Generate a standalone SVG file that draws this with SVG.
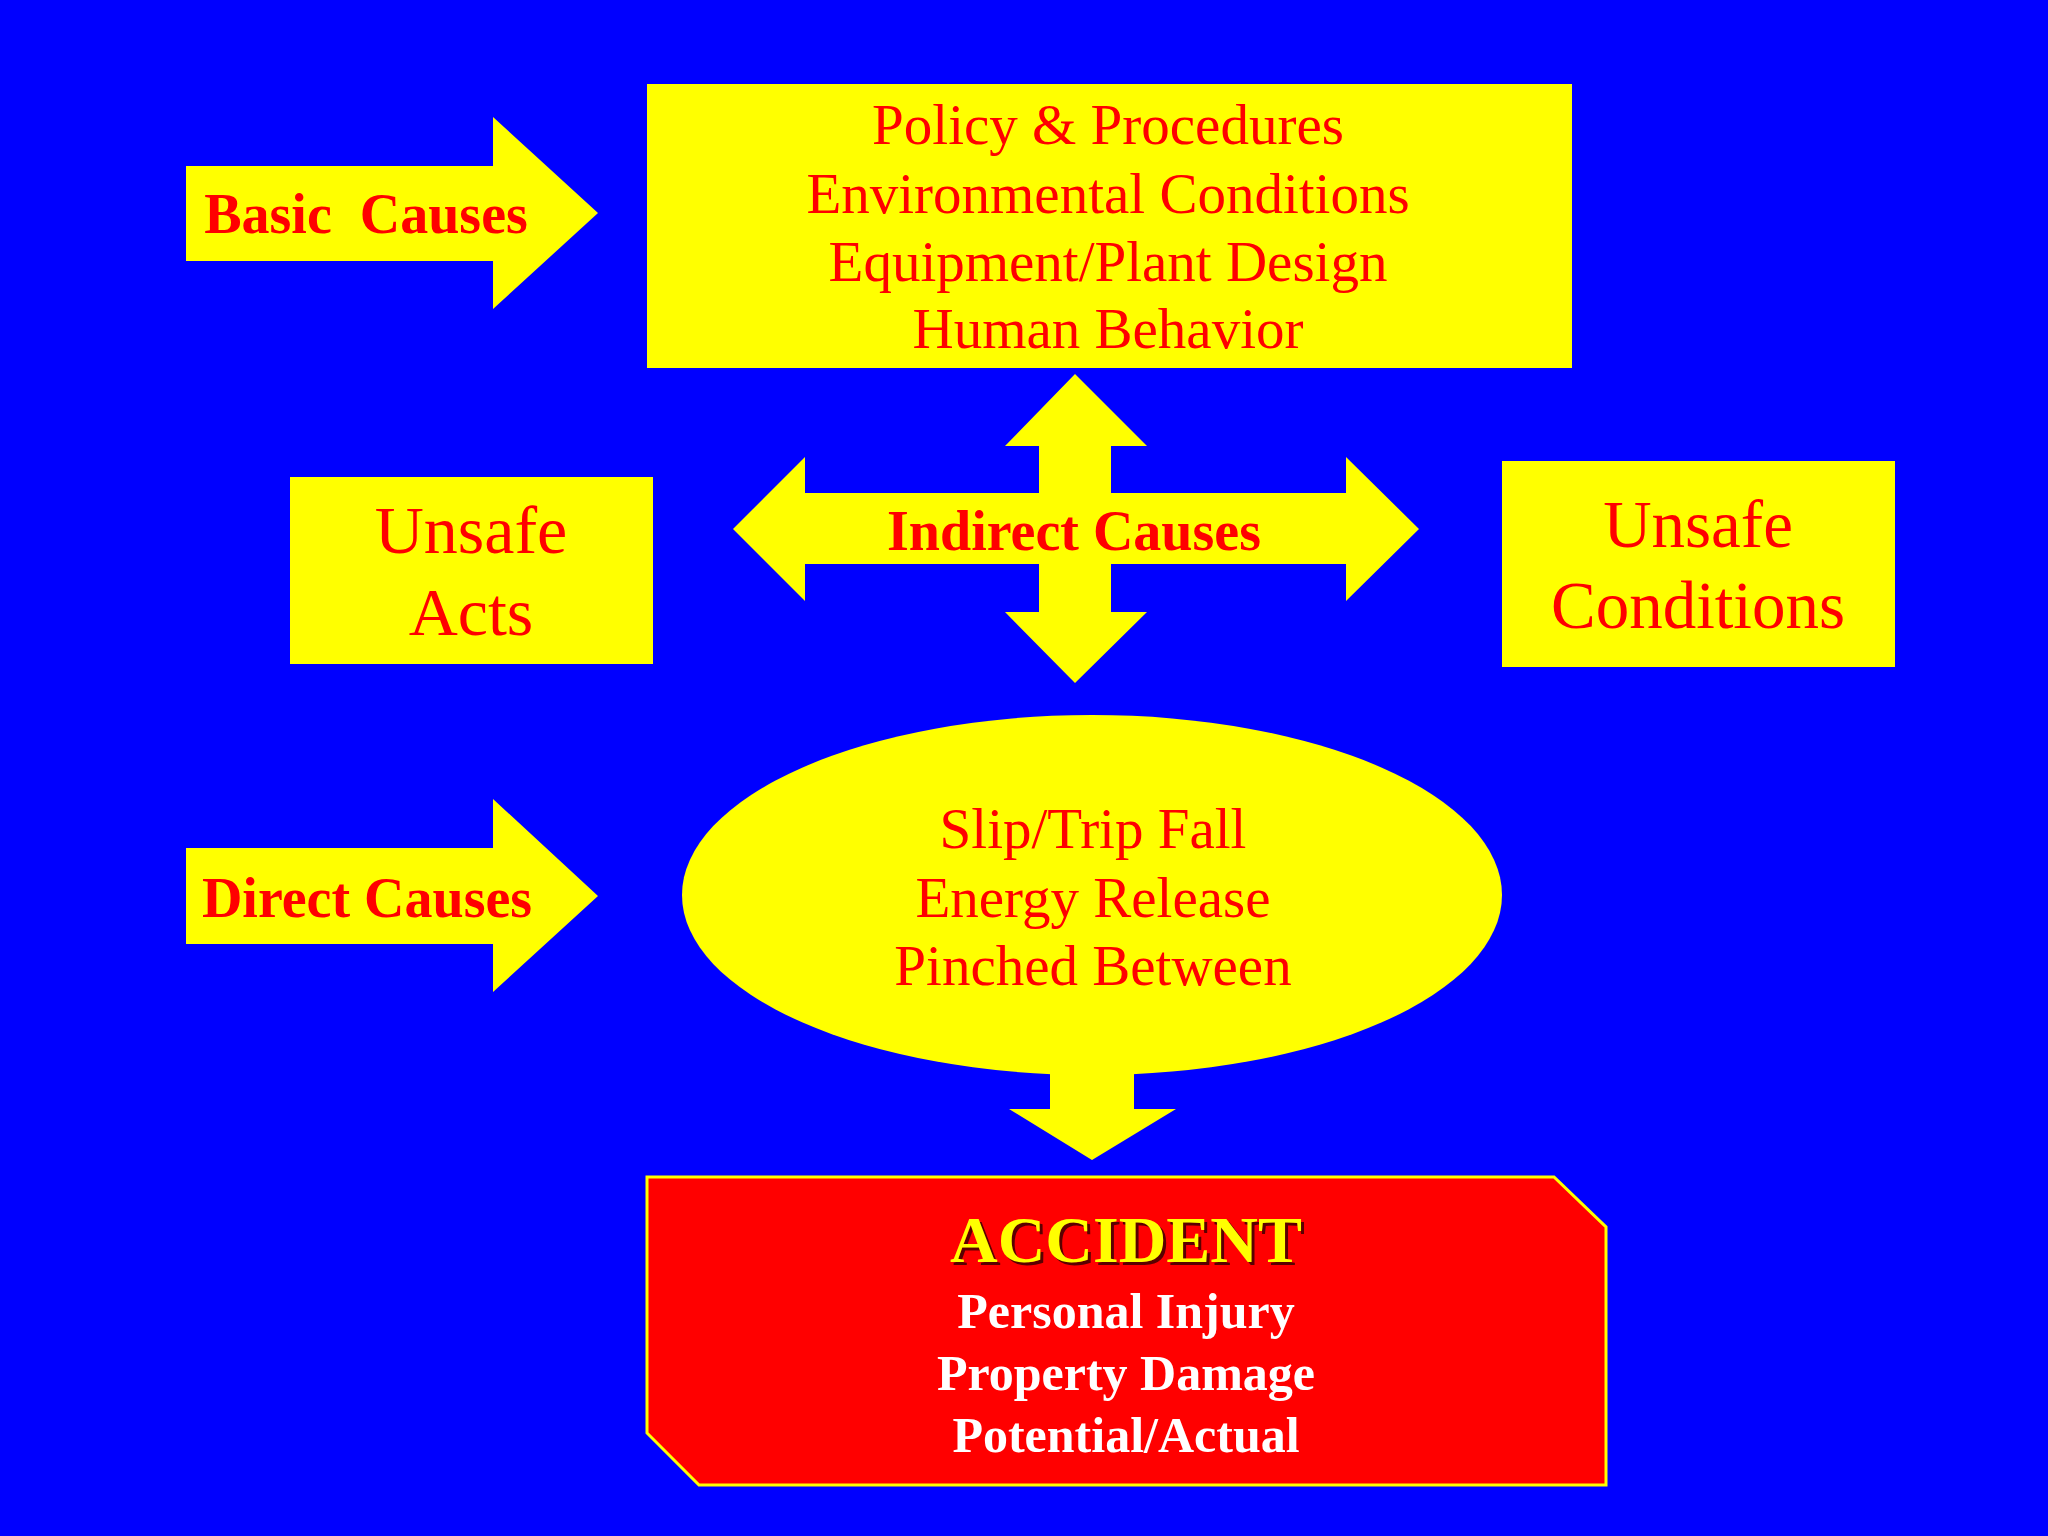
<svg xmlns="http://www.w3.org/2000/svg" width="2048" height="1536" viewBox="0 0 2048 1536">
<style>
.y{fill:#FFFF00}
.t{font-family:"Liberation Serif","Times New Roman",serif;fill:#FF0000;text-anchor:middle}
.b{font-weight:bold}
.w{font-family:"Liberation Serif","Times New Roman",serif;fill:#FFFFFF;font-weight:bold;text-anchor:middle;font-size:50px}
</style>
<rect width="2048" height="1536" fill="#0000FF"/>
<g id="basic-causes">
<polygon class="y" points="186,166 493,166 493,117 598,213 493,309 493,261 186,261"/>
<text class="t b" x="366" y="233" font-size="56">Basic &#160;Causes</text>
</g>
<g id="basic-list">
<rect class="y" x="647" y="84" width="925" height="284"/>
<g class="t" font-size="57">
<text x="1108" y="144">Policy &amp; Procedures</text>
<text x="1108" y="213">Environmental Conditions</text>
<text x="1108" y="281">Equipment/Plant Design</text>
<text x="1108" y="348">Human Behavior</text>
</g>
</g>
<g id="unsafe-acts">
<rect class="y" x="290" y="477" width="363" height="187"/>
<g class="t" font-size="68">
<text x="471" y="553">Unsafe</text>
<text x="471" y="635">Acts</text>
</g>
</g>
<g id="indirect-causes">
<polygon class="y" points="1075,374 1147,446 1111,446 1111,493 1346,493 1346,457 1419,529 1346,601 1346,564 1111,564 1111,612 1147,612 1075,683 1005,612 1039,612 1039,564 805,564 805,601 733,529 805,457 805,493 1039,493 1039,446 1005,446"/>
<text class="t b" x="1074" y="550" font-size="56">Indirect Causes</text>
</g>
<g id="unsafe-conditions">
<rect class="y" x="1502" y="461" width="393" height="206"/>
<g class="t" font-size="67">
<text x="1698" y="547">Unsafe</text>
<text x="1698" y="628">Conditions</text>
</g>
</g>
<g id="direct-causes">
<polygon class="y" points="186,848 493,848 493,799 598,896 493,992 493,944 186,944"/>
<text class="t b" x="367" y="917" font-size="56">Direct Causes</text>
</g>
<g id="direct-list">
<ellipse class="y" cx="1092" cy="895" rx="410" ry="180"/>
<g class="t" font-size="57">
<text x="1093" y="848">Slip/Trip Fall</text>
<text x="1093" y="917">Energy Release</text>
<text x="1093" y="985">Pinched Between</text>
</g>
</g>
<g id="connectors">
<polygon class="y" points="1050,1070 1134,1070 1134,1109 1176,1109 1092,1160 1009,1109 1050,1109"/>
</g>
<g id="accident">
<polygon points="647,1177 1554,1177 1606,1227 1606,1485 699,1485 647,1433" fill="#FF0000" stroke="#FFFF00" stroke-width="3"/>
<text x="1129" y="1265" font-family="Liberation Serif, Times New Roman, serif" font-weight="bold" font-size="66" text-anchor="middle" fill="#5A0000">ACCIDENT</text>
<text x="1126" y="1262" font-family="Liberation Serif, Times New Roman, serif" font-weight="bold" font-size="66" text-anchor="middle" fill="#FFFF00">ACCIDENT</text>
<text class="w" x="1126" y="1328">Personal Injury</text>
<text class="w" x="1126" y="1390">Property Damage</text>
<text class="w" x="1126" y="1452">Potential/Actual</text>
</g>
</svg>
